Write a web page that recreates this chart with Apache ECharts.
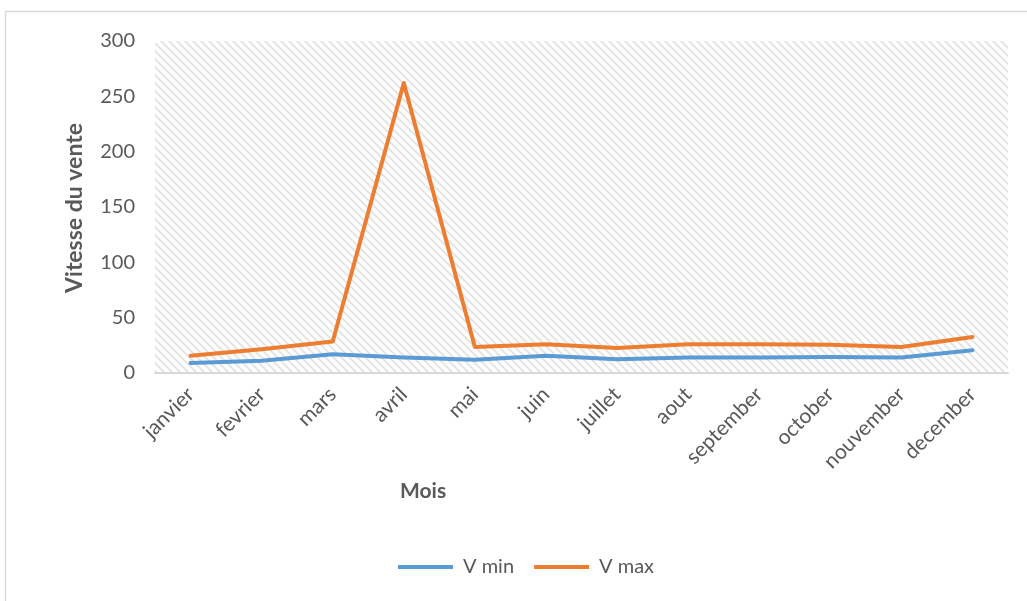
<!DOCTYPE html>
<html>
<head>
<meta charset="utf-8">
<script src="https://cdn.jsdelivr.net/npm/echarts@6/dist/echarts.min.js"></script>
<style>
  html, body { margin: 0; padding: 0; background: #ffffff; }
  #chart { width: 1027px; height: 601px; }
</style>
</head>
<body>
<div id="chart"></div>
<script>
// Monthly sales speed, minimum and maximum
const months = ['janvier', 'fevrier', 'mars', 'avril', 'mai', 'juin', 'juillet', 'aout', 'september', 'october', 'nouvember', 'december'];
const vMin = [9, 11, 17, 14, 12, 15.5, 12.5, 14, 14, 14.5, 14, 20.5];
const vMax = [15.5, 21.5, 28.5, 262, 23.5, 26, 22.5, 26, 26, 25.5, 23.5, 32.5];
const yTicks = [0, 50, 100, 150, 200, 250, 300];

const FONT = 'Lato, "Open Sans", sans-serif';
const TEXT = '#595959';

// diagonal hatch used as the plot area fill
function hatch() {
  const c = document.createElement('canvas');
  c.width = 8; c.height = 8;
  const g = c.getContext('2d');
  g.fillStyle = '#ffffff';
  g.fillRect(0, 0, 8, 8);
  g.strokeStyle = '#e2e2e2';
  g.lineWidth = 1.8;
  g.beginPath();
  g.moveTo(-2, -2); g.lineTo(10, 10);
  g.moveTo(-10, -2); g.lineTo(2, 10);
  g.moveTo(6, -2); g.lineTo(18, 10);
  g.stroke();
  return c;
}

const chart = echarts.init(document.getElementById('chart'));
chart.setOption({
  animation: false,
  backgroundColor: '#ffffff',
  textStyle: { fontFamily: FONT },
  grid: {
    left: 155, right: 19, top: 41, bottom: 228,
    show: true, borderWidth: 0,
    backgroundColor: { image: hatch(), repeat: 'repeat' }
  },
  legend: {
    bottom: 19, left: 393,
    itemWidth: 55, itemHeight: 4, itemGap: 20,
    icon: 'rect',
    textStyle: { fontFamily: FONT, fontSize: 20, color: TEXT, padding: [0, 0, 0, 5] },
    data: ['V min', 'V max']
  },
  xAxis: {
    type: 'category',
    data: months,
    boundaryGap: true,
    axisLine: { lineStyle: { color: '#d9d9d9', width: 2 } },
    axisTick: { show: false },
    axisLabel: { rotate: 45, fontSize: 21, color: TEXT, margin: 18, interval: 0, fontFamily: FONT }
  },
  yAxis: {
    type: 'value',
    min: yTicks[0], max: yTicks[yTicks.length - 1], interval: yTicks[1] - yTicks[0],
    axisLine: { show: false },
    axisTick: { show: false },
    splitLine: { show: false },
    axisLabel: { fontSize: 20, color: TEXT, margin: 20, fontFamily: FONT }
  },
  graphic: [
    { type: 'rect', silent: true, z: -1,
      shape: { x: 5.5, y: 11.5, width: 1100, height: 700 },
      style: { fill: 'none', stroke: '#d9d9d9', lineWidth: 1.5 } },
    { type: 'text', left: 400, top: 481,
      style: { text: 'Mois', font: 'bold 21px ' + FONT, fill: TEXT } },
    { type: 'text', x: 75, y: 208, rotation: Math.PI / 2,
      style: { text: 'Vitesse du vente', font: 'bold 23px ' + FONT, fill: TEXT,
               align: 'center', verticalAlign: 'middle' } }
  ],
  series: [
    { name: 'V min', type: 'line', data: vMin, symbol: 'none',
      lineStyle: { color: '#5b9bd5', width: 4, cap: 'round', join: 'round' },
      itemStyle: { color: '#5b9bd5' } },
    { name: 'V max', type: 'line', data: vMax, symbol: 'none',
      lineStyle: { color: '#ed7d31', width: 4, cap: 'round', join: 'round' },
      itemStyle: { color: '#ed7d31' } }
  ]
});
</script>
</body>
</html>
